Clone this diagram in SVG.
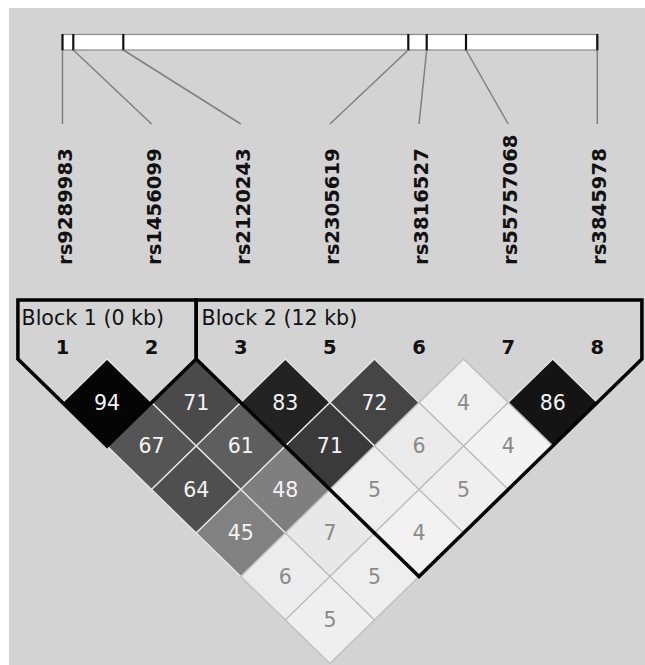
<svg xmlns="http://www.w3.org/2000/svg" xmlns:xlink="http://www.w3.org/1999/xlink" width="645" height="665" viewBox="0 0 645 665">
<style>
text{font-family:"DejaVu Sans","Noto Sans",sans-serif}
.lbl{font-size:19.6px;font-weight:bold;fill:#111}
.blk{font-size:20.6px;fill:#111}
.num{font-size:19.5px;font-weight:bold;fill:#111;text-anchor:middle}
.v{font-size:20.5px;text-anchor:middle}
.dk use{stroke:#e6e6e6;stroke-width:1.3}
.lt use{stroke:#bcbcbc;stroke-width:1.2}
.dk text{fill:#f4f4f4}
.lt text{fill:#8a8a8a}
.conn line{stroke:#808080;stroke-width:1.5}
.tick{stroke:#111;stroke-width:2.2}
.outline{fill:none;stroke:#000;stroke-width:3.5;stroke-linejoin:miter}
</style>
<defs>
<path id="d" d="M0,-43.5 L44.57,0 L0,43.5 L-44.57,0 Z"/>
</defs>
<rect x="9" y="8" width="636" height="657" fill="#d3d3d3"/>
<g id="bar">
<rect x="62.5" y="34.5" width="534.8" height="15.5" fill="#fff" stroke="#8a8a8a" stroke-width="1.2"/>
<line class="tick" x1="62.5" y1="34" x2="62.5" y2="50.5"/>
<line class="tick" x1="73.3" y1="34" x2="73.3" y2="50.5"/>
<line class="tick" x1="123.3" y1="34" x2="123.3" y2="50.5"/>
<line class="tick" x1="408.3" y1="34" x2="408.3" y2="50.5"/>
<line class="tick" x1="426.7" y1="34" x2="426.7" y2="50.5"/>
<line class="tick" x1="466" y1="34" x2="466" y2="50.5"/>
<line class="tick" x1="597.3" y1="34" x2="597.3" y2="50.5"/>
</g>
<g id="connectors" class="conn">
<line x1="62.5" y1="50" x2="62.5" y2="124"/>
<line x1="73.3" y1="50" x2="151.6" y2="124"/>
<line x1="123.3" y1="50" x2="240.8" y2="124"/>
<line x1="408.3" y1="50" x2="329.9" y2="124"/>
<line x1="426.7" y1="50" x2="419" y2="124"/>
<line x1="466" y1="50" x2="508.2" y2="124"/>
<line x1="597.3" y1="50" x2="597.3" y2="124"/>
</g>
<g id="labels">
<text class="lbl" transform="translate(71.5,265) rotate(-90)">rs9289983</text>
<text class="lbl" transform="translate(160.6,265) rotate(-90)">rs1456099</text>
<text class="lbl" transform="translate(249.8,265) rotate(-90)">rs2120243</text>
<text class="lbl" transform="translate(338.9,265) rotate(-90)">rs2305619</text>
<text class="lbl" transform="translate(428,265) rotate(-90)">rs3816527</text>
<text class="lbl" transform="translate(517.2,265) rotate(-90)">rs55757068</text>
<text class="lbl" transform="translate(606.3,265) rotate(-90)">rs3845978</text>
</g>
<g id="cells">
<g id="c1-2" class="dk"><use xlink:href="#d" x="107.05" y="402.5" fill="#050505"/><text class="v" x="107.05" y="409.5">94</text></g>
<g id="c2-3" class="dk"><use xlink:href="#d" x="196.2" y="402.5" fill="#4a4a4a"/><text class="v" x="196.2" y="409.5">71</text></g>
<g id="c3-5" class="dk"><use xlink:href="#d" x="285.35" y="402.5" fill="#232323"/><text class="v" x="285.35" y="409.5">83</text></g>
<g id="c5-6" class="dk"><use xlink:href="#d" x="374.45" y="402.5" fill="#454545"/><text class="v" x="374.45" y="409.5">72</text></g>
<g id="c6-7" class="lt"><use xlink:href="#d" x="463.6" y="402.5" fill="#f0f0f0"/><text class="v" x="463.6" y="409.5">4</text></g>
<g id="c7-8" class="dk"><use xlink:href="#d" x="552.75" y="402.5" fill="#141414"/><text class="v" x="552.75" y="409.5">86</text></g>

<g id="c1-3" class="dk"><use xlink:href="#d" x="151.6" y="446" fill="#555555"/><text class="v" x="151.6" y="453">67</text></g>
<g id="c2-5" class="dk"><use xlink:href="#d" x="240.8" y="446" fill="#5e5e5e"/><text class="v" x="240.8" y="453">61</text></g>
<g id="c3-6" class="dk"><use xlink:href="#d" x="329.9" y="446" fill="#3a3a3a"/><text class="v" x="329.9" y="453">71</text></g>
<g id="c5-7" class="lt"><use xlink:href="#d" x="419" y="446" fill="#ebebeb"/><text class="v" x="419" y="453">6</text></g>
<g id="c6-8" class="lt"><use xlink:href="#d" x="508.2" y="446" fill="#f3f3f3"/><text class="v" x="508.2" y="453">4</text></g>

<g id="c1-5" class="dk"><use xlink:href="#d" x="196.2" y="489.5" fill="#4f4f4f"/><text class="v" x="196.2" y="496.5">64</text></g>
<g id="c2-6" class="dk"><use xlink:href="#d" x="285.35" y="489.5" fill="#7f7f7f"/><text class="v" x="285.35" y="496.5">48</text></g>
<g id="c3-7" class="lt"><use xlink:href="#d" x="374.45" y="489.5" fill="#eeeeee"/><text class="v" x="374.45" y="496.5">5</text></g>
<g id="c5-8" class="lt"><use xlink:href="#d" x="463.6" y="489.5" fill="#efefef"/><text class="v" x="463.6" y="496.5">5</text></g>

<g id="c1-6" class="dk"><use xlink:href="#d" x="240.8" y="533" fill="#818181"/><text class="v" x="240.8" y="540">45</text></g>
<g id="c2-7" class="lt"><use xlink:href="#d" x="329.9" y="533" fill="#e8e8e8"/><text class="v" x="329.9" y="540">7</text></g>
<g id="c3-8" class="lt"><use xlink:href="#d" x="419" y="533" fill="#f2f2f2"/><text class="v" x="419" y="540">4</text></g>

<g id="c1-7" class="lt"><use xlink:href="#d" x="285.35" y="576.5" fill="#ececec"/><text class="v" x="285.35" y="583.5">6</text></g>
<g id="c2-8" class="lt"><use xlink:href="#d" x="374.45" y="576.5" fill="#eeeeee"/><text class="v" x="374.45" y="583.5">5</text></g>

<g id="c1-8" class="lt"><use xlink:href="#d" x="329.9" y="620" fill="#efefef"/><text class="v" x="329.9" y="627">5</text></g>
</g>
<g id="block1">
<path class="outline" d="M17.9,300 L17.9,359 L107.05,446 L196.2,359 L196.2,300 Z"/>
<text class="blk" x="21.5" y="325">Block 1 (0 kb)</text>
<text class="num" x="62.5" y="354">1</text>
<text class="num" x="151.6" y="354">2</text>
</g>
<g id="block2">
<path class="outline" d="M196.2,300 L196.2,359 L419,576.5 L641.9,359 L641.9,300 Z"/>
<text class="blk" x="201.5" y="325">Block 2 (12 kb)</text>
<text class="num" x="240.8" y="354">3</text>
<text class="num" x="329.9" y="354">5</text>
<text class="num" x="419" y="354">6</text>
<text class="num" x="508.2" y="354">7</text>
<text class="num" x="597.3" y="354">8</text>
</g>
</svg>
